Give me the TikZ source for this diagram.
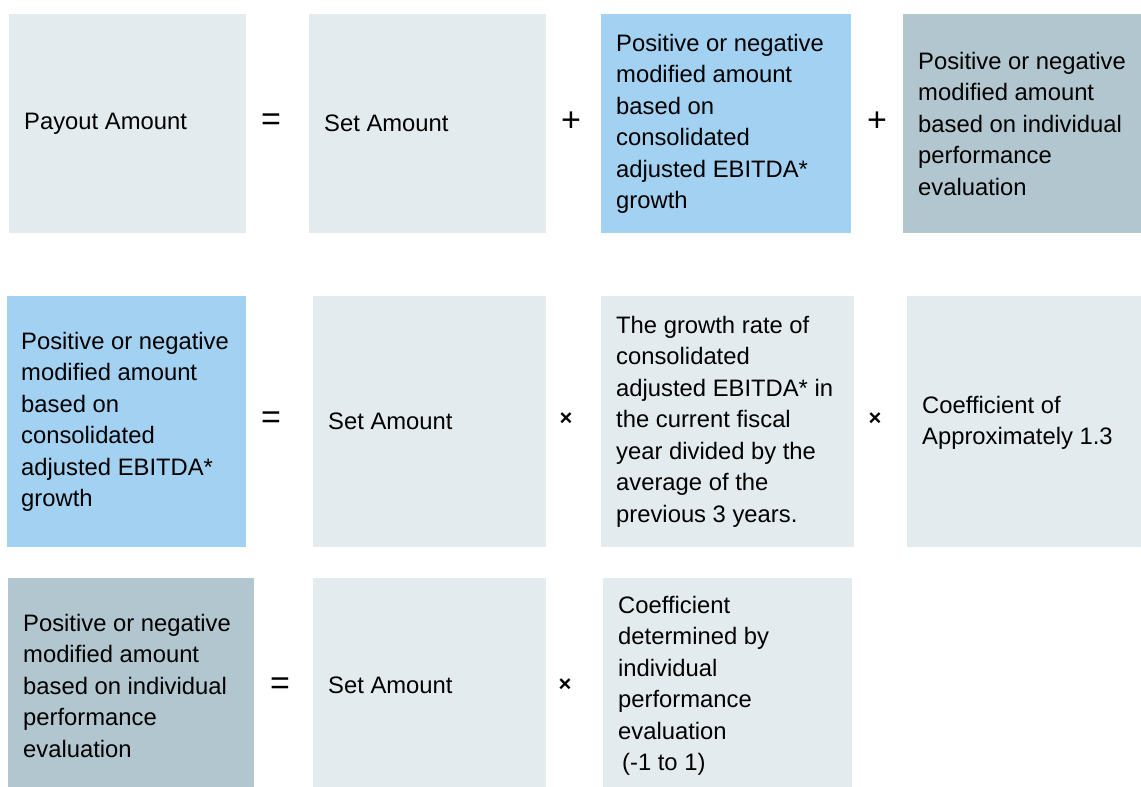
\documentclass[tikz,border=0pt]{standalone}
\usepackage{fontspec}
\setmainfont{Liberation Sans}
\definecolor{boxlight}{HTML}{E3EBEF}
\definecolor{boxblue}{HTML}{A3D1F2}
\definecolor{boxgrey}{HTML}{B2C6CF}
\tikzset{
  box/.style={rectangle, draw=none, inner sep=0pt, anchor=north west},
  light/.style={box, fill=boxlight},
  blue/.style={box, fill=boxblue},
  grey/.style={box, fill=boxgrey},
  txt/.style={anchor=west, align=left, inner sep=0pt, text=black,
    font=\fontsize{23.8}{31.5}\selectfont},
  op/.style={inner sep=0pt, text=black, font=\fontsize{34}{34}\selectfont},
  timesop/.style={inner sep=0pt, text=black, font=\fontsize{22}{22}\selectfont\bfseries},
}
\begin{document}
\begin{tikzpicture}[x=1pt,y=-1pt]
\useasboundingbox (0,0) rectangle (1141,787);
% Row 1
\node[light, minimum width=237pt, minimum height=219pt] (a) at (9,14) {};
\node[light, minimum width=237pt, minimum height=219pt] (b) at (309,14) {};
\node[blue,  minimum width=250pt, minimum height=219pt] (c) at (601,14) {};
\node[grey,  minimum width=238pt, minimum height=219pt] (d) at (903,14) {};
\node[txt] (ta) at ([xshift=15pt]a.west) {Payout Amount};
\node[txt] (tb) at ([xshift=15pt]b.west) {Set Amount};
\node[txt] (tc) at ([xshift=15pt]c.west) {Positive or negative\\modified amount\\based on\\consolidated\\adjusted EBITDA*\\growth};
\node[txt] (td) at ([xshift=15pt]d.west) {Positive or negative\\modified amount\\based on individual\\performance\\evaluation};
\node[op] (eq1) at (271,122) {=};
\node[op] (pl1) at (571,122) {+};
\node[op] (pl2) at (877,122) {+};
% Row 2
\node[blue,  minimum width=239pt, minimum height=251pt] (e) at (7,296) {};
\node[light, minimum width=233pt, minimum height=251pt] (f) at (313,296) {};
\node[light, minimum width=253pt, minimum height=251pt] (g) at (601,296) {};
\node[light, minimum width=234pt, minimum height=251pt] (h) at (907,296) {};
\node[txt] (te) at ([xshift=14pt]e.west) {Positive or negative\\modified amount\\based on\\consolidated\\adjusted EBITDA*\\growth};
\node[txt] (tf) at ([xshift=15pt]f.west) {Set Amount};
\node[txt] (tg) at ([xshift=15pt]g.west) {The growth rate of\\consolidated\\adjusted EBITDA* in\\the current fiscal\\year divided by the\\average of the\\previous 3 years.};
\node[txt] (th) at ([xshift=15pt,yshift=-1pt]h.west) {Coefficient of\\Approximately 1.3};
\node[op] (eq2) at (271,420) {=};
\node[timesop] (x1) at (566,419) {×};
\node[timesop] (x2) at (875,419) {×};
% Row 3
\node[grey,  minimum width=246pt, minimum height=209pt] (i) at (8,578) {};
\node[light, minimum width=233pt, minimum height=209pt] (j) at (313,578) {};
\node[light, minimum width=249pt, minimum height=209pt] (k) at (603,578) {};
\node[txt] (ti) at ([xshift=15pt,yshift=-3pt]i.west) {Positive or negative\\modified amount\\based on individual\\performance\\evaluation};
\node[txt] (tj) at ([xshift=15pt,yshift=-3pt]j.west) {Set Amount};
\node[txt] (tk) at ([xshift=15pt,yshift=-3pt]k.west) {Coefficient\\determined by\\individual\\performance\\evaluation\\\hspace{4pt}(-1 to 1)};
\node[op] (eq3) at (280,686) {=};
\node[timesop] (x3) at (565,685) {×};
\end{tikzpicture}
\end{document}
